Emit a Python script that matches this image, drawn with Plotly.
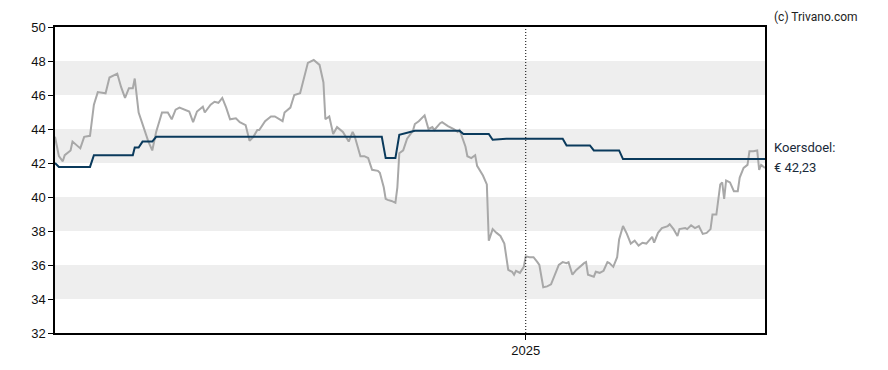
import plotly.graph_objects as go

price_dates = [
    "2024-05-04","2024-05-06","2024-05-08","2024-05-09","2024-05-12","2024-05-13","2024-05-17","2024-05-19",
    "2024-05-22","2024-05-24","2024-05-26","2024-05-30","2024-06-01","2024-06-05","2024-06-07","2024-06-09",
    "2024-06-11","2024-06-13","2024-06-14","2024-06-16","2024-06-18","2024-06-21","2024-06-23","2024-06-25",
    "2024-06-28","2024-07-01","2024-07-03","2024-07-05","2024-07-07","2024-07-10","2024-07-12","2024-07-14",
    "2024-07-16","2024-07-19","2024-07-20","2024-07-23","2024-07-25","2024-07-27","2024-07-29","2024-07-31",
    "2024-08-02","2024-08-05","2024-08-07","2024-08-10","2024-08-12","2024-08-14","2024-08-16","2024-08-17",
    "2024-08-20","2024-08-23","2024-08-25","2024-08-29","2024-08-30","2024-09-02","2024-09-04","2024-09-07",
    "2024-09-08","2024-09-11","2024-09-14","2024-09-17","2024-09-19","2024-09-20","2024-09-22","2024-09-24",
    "2024-09-26","2024-09-29","2024-10-02","2024-10-04","2024-10-05","2024-10-08","2024-10-10","2024-10-12",
    "2024-10-14","2024-10-17","2024-10-18","2024-10-20","2024-10-21","2024-10-22","2024-10-24","2024-10-26",
    "2024-10-27","2024-10-28","2024-10-30","2024-11-01","2024-11-04","2024-11-05","2024-11-07","2024-11-09",
    "2024-11-10","2024-11-12","2024-11-14","2024-11-15","2024-11-18","2024-11-19","2024-11-22","2024-11-25",
    "2024-11-27","2024-11-28","2024-11-30","2024-12-01","2024-12-02","2024-12-04","2024-12-06","2024-12-07",
    "2024-12-10","2024-12-12","2024-12-13","2024-12-15","2024-12-17","2024-12-19","2024-12-21","2024-12-23",
    "2024-12-25","2024-12-26","2024-12-27","2024-12-29","2024-12-31","2025-01-01","2025-01-03","2025-01-05",
    "2025-01-07","2025-01-08","2025-01-10","2025-01-12","2025-01-14","2025-01-16","2025-01-18","2025-01-20",
    "2025-01-22","2025-01-23","2025-01-25","2025-01-27","2025-01-29","2025-01-31","2025-02-01","2025-02-02",
    "2025-02-05","2025-02-06","2025-02-08","2025-02-10","2025-02-12","2025-02-13","2025-02-15","2025-02-17",
    "2025-02-18","2025-02-20","2025-02-22","2025-02-24","2025-02-26","2025-02-28","2025-03-02","2025-03-04",
    "2025-03-07","2025-03-08","2025-03-10","2025-03-12","2025-03-15","2025-03-16","2025-03-18","2025-03-20",
    "2025-03-21","2025-03-24","2025-03-25","2025-03-27","2025-03-29","2025-03-31","2025-04-02","2025-04-04",
    "2025-04-06","2025-04-07","2025-04-09","2025-04-11","2025-04-12","2025-04-13","2025-04-14","2025-04-16",
    "2025-04-18","2025-04-20","2025-04-21","2025-04-23","2025-04-25","2025-04-26","2025-04-28","2025-04-30",
    "2025-05-01","2025-05-02","2025-05-04",
]
price_values = [
    43.54,42.40,42.10,42.46,42.74,43.26,42.86,43.54,
    43.60,45.43,46.17,46.10,47.03,47.26,46.46,45.83,
    46.40,46.40,46.97,44.97,44.29,43.26,42.74,43.83,
    44.97,44.97,44.57,45.14,45.26,45.14,45.03,44.40,
    45.03,45.31,44.97,45.43,45.60,45.54,45.83,45.26,
    44.57,44.63,44.40,44.23,43.31,43.54,43.94,43.94,
    44.46,44.74,44.74,44.46,44.97,45.26,46.00,46.10,
    46.57,47.89,48.06,47.77,46.74,44.57,44.74,43.71,
    44.11,43.83,43.26,43.83,43.60,42.40,42.40,42.29,
    41.60,41.54,41.43,40.57,39.89,39.83,39.77,39.66,
    40.57,42.57,42.74,43.43,43.89,44.29,44.46,44.69,
    44.80,44.00,44.11,43.94,44.34,44.40,44.17,44.00,
    43.83,43.94,43.31,42.97,42.40,42.29,42.46,41.83,
    41.26,40.74,37.43,38.11,37.89,37.71,37.26,35.71,
    35.60,35.43,35.66,35.54,35.89,36.51,36.46,36.46,
    36.17,36.00,34.69,34.74,34.86,35.43,36.00,36.17,
    36.11,36.17,35.43,35.71,35.94,36.11,36.17,35.43,
    35.31,35.60,35.54,35.66,36.17,36.11,35.89,36.46,
    37.50,38.29,37.83,37.26,37.43,37.14,37.31,37.26,
    37.66,37.31,37.89,38.17,38.29,38.40,38.11,37.71,
    38.11,38.17,38.11,38.34,38.17,38.29,37.83,37.89,
    38.11,38.97,38.97,40.74,40.86,39.89,40.97,40.86,
    40.34,40.34,41.14,41.71,41.89,42.69,42.69,42.74,
    41.60,41.89,41.71,
]

target_dates = [
    "2024-05-04","2024-05-06","2024-05-22","2024-05-24","2024-06-13","2024-06-14","2024-06-16","2024-06-18",
    "2024-06-23","2024-06-25","2024-10-19","2024-10-21","2024-10-26","2024-10-28","2024-11-05","2024-11-28",
    "2024-11-30","2024-12-13","2024-12-15","2024-12-22","2025-01-20","2025-01-22","2025-02-03","2025-02-05",
    "2025-02-18","2025-02-20","2025-05-04",
]
target_values = [
    42.00,41.77,41.77,42.46,42.46,42.91,42.91,43.26,
    43.26,43.54,43.54,42.29,42.29,43.66,43.89,43.89,
    43.71,43.71,43.37,43.43,43.43,43.03,43.03,42.74,
    42.74,42.23,42.23,
]

y_ticks = [32, 34, 36, 38, 40, 42, 44, 46, 48, 50]
band_ranges = [(34, 36), (38, 40), (42, 44), (46, 48)]
year_tick = "2025-01-01"
year_label = "2025"
target_label = "Koersdoel:"
target_text = "€ 42,23"
credit = "(c) Trivano.com"

text_font = "Roboto, Arial, sans-serif"
tick_font = "Liberation Sans, Arial, sans-serif"

fig = go.Figure()
fig.add_trace(go.Scatter(x=price_dates, y=price_values, mode="lines",
                         line=dict(color="#a8a8a8", width=2), hoverinfo="skip"))
fig.add_trace(go.Scatter(x=target_dates, y=target_values, mode="lines",
                         line=dict(color="#0a3a5c", width=2), hoverinfo="skip"))

shapes = []
for lo, hi in band_ranges:
    shapes.append(dict(type="rect", xref="paper", yref="y", x0=0, x1=1, y0=lo, y1=hi,
                       fillcolor="#eeeeee", line=dict(width=0), layer="below"))
shapes.append(dict(type="line", xref="x", yref="paper", x0=year_tick, x1=year_tick, y0=0, y1=1,
                   line=dict(color="#000000", width=1, dash="1px,2px"), layer="above"))

fig.update_layout(
    width=880, height=362,
    margin=dict(l=47, r=123, t=12, b=35),
    paper_bgcolor="white", plot_bgcolor="white",
    showlegend=False,
    font=dict(family=text_font, size=12, color="#222222"),
    shapes=shapes,
    xaxis=dict(
        type="date", range=["2024-05-04", "2025-05-04"],
        tickvals=[year_tick], ticktext=[year_label],
        showgrid=False, zeroline=False,
        showline=True, linecolor="#000000", linewidth=1.5, mirror=True,
        ticks="outside", ticklen=5, tickcolor="#000000",
        tickfont=dict(family=tick_font, size=13, color="#111111"),
    ),
    yaxis=dict(
        range=[32, 50], tickvals=y_ticks,
        showgrid=False, zeroline=False,
        showline=True, linecolor="#000000", linewidth=1.5, mirror=True,
        ticks="outside", ticklen=5, tickcolor="#000000",
        tickfont=dict(family=tick_font, size=13, color="#111111"),
    ),
    annotations=[
        dict(text=credit, xref="paper", yref="paper", x=1.0, y=1.0, xshift=7, yshift=1,
             xanchor="left", yanchor="bottom", showarrow=False,
             font=dict(size=12, color="#222222")),
        dict(text=target_label, xref="paper", yref="y", x=1.0, y=target_values[-1], xshift=7, yshift=2,
             xanchor="left", yanchor="bottom", showarrow=False,
             font=dict(size=13, color="#1a2a3a")),
        dict(text=target_text, xref="paper", yref="y", x=1.0, y=target_values[-1], xshift=7, yshift=1,
             xanchor="left", yanchor="top", showarrow=False,
             font=dict(size=13, color="#1a2a3a")),
    ],
)

fig.write_html("out.html")
